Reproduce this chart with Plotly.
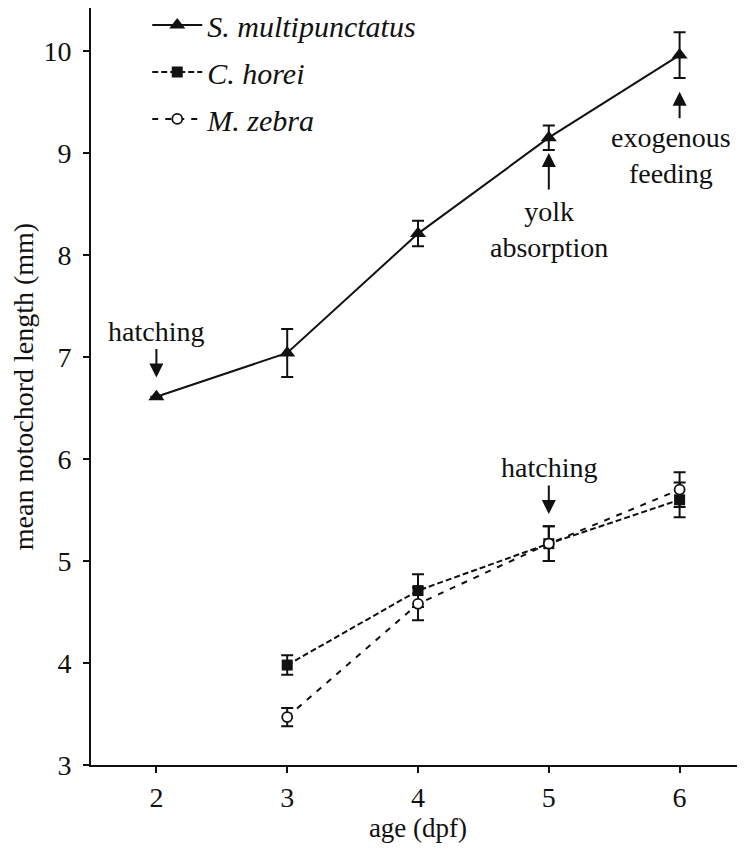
import plotly.graph_objects as go

# ---- data ----
age_s = [2, 3, 4, 5, 6]
s_multi = [6.61, 7.04, 8.21, 9.15, 9.96]
s_multi_err = [None, 0.235, 0.125, 0.12, 0.225]

age_c = [3, 4, 5, 6]
c_horei = [3.98, 4.71, 5.17, 5.60]
c_horei_err = [0.095, 0.16, 0.17, 0.17]

age_m = [3, 4, 5, 6]
m_zebra = [3.47, 4.58, 5.17, 5.70]
m_zebra_err = [0.09, 0.16, 0.17, 0.17]

x_ticks = [2, 3, 4, 5, 6]
y_ticks = [3, 4, 5, 6, 7, 8, 9, 10]

FONT = "Liberation Serif"
BLACK = "#111111"

fig = go.Figure()

fig.add_trace(go.Scatter(
    x=age_s, y=s_multi, name="<i>S. multipunctatus</i>", mode="lines+markers",
    line=dict(color=BLACK, width=2, dash="solid"),
    marker=dict(symbol="triangle-up", size=14, color=BLACK),
    error_y=dict(type="data", array=s_multi_err, color=BLACK, thickness=2, width=6),
    legendgroup="a",
))
fig.add_trace(go.Scatter(
    x=age_c, y=c_horei, name="<i>C. horei</i>", mode="lines+markers",
    line=dict(color=BLACK, width=2, dash="6px,3px"),
    marker=dict(symbol="square", size=11, color=BLACK),
    error_y=dict(type="data", array=c_horei_err, color=BLACK, thickness=2, width=6),
    legendgroup="b",
))
fig.add_trace(go.Scatter(
    x=age_m, y=m_zebra, name="<i>M. zebra</i>", mode="lines+markers",
    line=dict(color=BLACK, width=2, dash="6px,7px"),
    marker=dict(symbol="circle", size=10, color="white", line=dict(color=BLACK, width=1.8)),
    error_y=dict(type="data", array=m_zebra_err, color=BLACK, thickness=2, width=6),
    legendgroup="c",
))

# ---- annotations (text + arrows) ----
ann_font = dict(family=FONT, size=28, color=BLACK)
arrow = dict(text="", showarrow=True, arrowhead=2, arrowsize=1.4, arrowwidth=2,
             arrowcolor=BLACK, ax=0)
annotations = [
    dict(x=2, y=7.25, text="hatching", showarrow=False, font=ann_font),
    dict(x=2, y=6.80, ay=-30, **arrow),
    dict(x=5, y=5.92, text="hatching", showarrow=False, font=ann_font),
    dict(x=5, y=5.46, ay=-30, **arrow),
    dict(x=5, y=8.25, text="yolk<br>absorption", showarrow=False, font=ann_font),
    dict(x=5, y=9.00, ay=38, **arrow),
    dict(x=6, y=8.98, text="exogenous<br>feeding", showarrow=False, font=ann_font,
         xshift=-9),
    dict(x=6, y=9.60, ay=28, **arrow),
]

fig.update_layout(
    width=737, height=842,
    margin=dict(l=83, r=0, t=0, b=85, autoexpand=False),
    paper_bgcolor="white", plot_bgcolor="white",
    font=dict(family=FONT, size=28, color=BLACK),
    showlegend=True,
    legend=dict(x=0.086, y=1.012, xanchor="left", yanchor="top",
                bgcolor="rgba(0,0,0,0)", borderwidth=0,
                font=dict(family=FONT, size=30, color=BLACK),
                itemwidth=50, tracegroupgap=5, traceorder="grouped"),
    annotations=annotations,
    xaxis=dict(range=[1.5, 6.5], tickvals=x_ticks, ticks="outside", ticklen=6,
               tickwidth=1.5, tickcolor=BLACK, showline=True, linecolor=BLACK,
               linewidth=2, showgrid=False, zeroline=False,
               tickfont=dict(family=FONT, size=28, color=BLACK),
               title=dict(text="age (dpf)", font=dict(family=FONT, size=27, color=BLACK),
                          standoff=6)),
    yaxis=dict(range=[3, 3 + 757 / 102], tickvals=y_ticks, ticks="outside", ticklen=6,
               tickwidth=1.5, tickcolor=BLACK, showline=True, linecolor=BLACK,
               linewidth=2, showgrid=False, zeroline=False, ticklabelstandoff=6,
               tickfont=dict(family=FONT, size=28, color=BLACK),
               title=dict(text="mean notochord length (mm)",
                          font=dict(family=FONT, size=28, color=BLACK), standoff=8)),
)

fig.write_html("out.html")
